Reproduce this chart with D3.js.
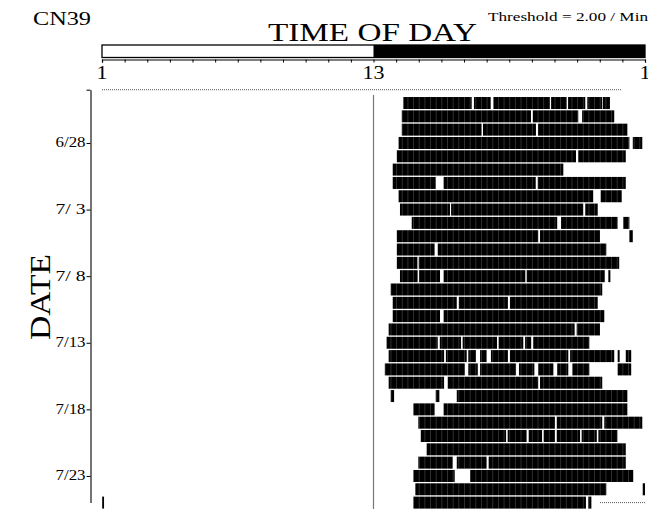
<!DOCTYPE html>
<html>
<head>
<meta charset="utf-8">
<script src="https://cdn.jsdelivr.net/npm/d3@7/dist/d3.min.js"></script>
<style>
  html, body { margin: 0; padding: 0; background: #fff; }
  svg { display: block; }
  text { font-family: "Liberation Serif", "DejaVu Serif", serif; fill: #000; }
</style>
</head>
<body>
<svg id="chart" width="648" height="509"></svg>
<script>
// Recording days, one row each
const days = ["6/24","6/25","6/26","6/27","6/28","6/29","6/30","7/1","7/2","7/3","7/4",
  "7/5","7/6","7/7","7/8","7/9","7/10","7/11","7/12","7/13","7/14","7/15","7/16",
  "7/17","7/18","7/19","7/20","7/21","7/22","7/23","7/24","7/25"];

// Labelled days on the DATE axis and their printed text
const dateTicks = ["6/28","7/3","7/8","7/13","7/18","7/23"];
const dateTickText = ["6/28","7/ 3","7/ 8","7/13","7/18","7/23"];

// Clock hours on the TIME OF DAY axis (1 .. 25 = 1 o'clock next day)
const hourTicks = [1,2,3,4,5,6,7,8,9,10,11,12,13,14,15,16,17,18,19,20,21,22,23,24,25];
const hourLabels = [[1,"1"],[13,"13"],[25,"1"]];

// Light / dark schedule
const lightPhase = [1, 13];
const darkPhase = [13, 25];

// Activity above threshold, per day: [start hour, end hour]
const activity = [
  [],
  [[14.32,17.34],[17.44,18.18],[18.30,20.80],[20.85,21.54],[21.60,22.36],[22.45,23.11],[23.14,23.45]],
  [[14.25,19.96],[20.04,22.05],[22.22,23.64]],
  [[14.25,17.78],[17.84,20.18],[20.27,24.22]],
  [[14.11,24.31],[24.46,24.88]],
  [[14.03,21.95],[22.05,24.15]],
  [[13.85,21.39]],
  [[13.85,15.75],[16.10,20.17],[20.26,24.15]],
  [[14.11,22.71],[23.04,23.97]],
  [[14.17,16.38],[16.43,22.27],[22.36,22.91]],
  [[14.69,21.12],[21.29,23.79],[24.04,24.31]],
  [[14.03,20.28],[20.36,23.01],[24.31,24.46]],
  [[14.03,15.70],[15.84,23.29]],
  [[14.03,14.94],[15.00,23.86]],
  [[14.17,14.95],[15.01,15.94],[16.10,19.71],[19.77,23.22],[23.38,23.47]],
  [[13.76,23.11]],
  [[13.85,16.68],[16.77,18.94],[19.03,22.91]],
  [[13.85,15.94],[16.10,23.20]],
  [[13.67,21.89],[21.98,23.01]],
  [[13.58,15.84],[15.93,16.87],[16.94,18.46],[18.53,19.62],[19.70,19.97],[20.06,22.54]],
  [[13.67,16.12],[16.20,17.12],[17.19,17.53],[17.71,18.00],[18.19,18.94],[19.03,21.61],[21.69,23.64],[23.79,23.88],[24.15,24.39]],
  [[13.50,17.04],[17.19,17.61],[17.71,19.30],[19.43,20.11],[20.28,20.95],[21.12,21.61],[21.79,22.54],[23.79,24.39]],
  [[13.67,16.12],[16.28,20.28],[20.36,23.11]],
  [[13.76,13.91],[15.75,15.91],[16.68,24.22]],
  [[14.76,15.70],[16.10,24.22]],
  [[14.98,21.02],[21.10,23.11],[23.20,24.88]],
  [[15.09,18.86],[18.93,19.77],[19.86,20.45],[20.52,21.02],[21.10,22.13],[22.20,22.87],[22.94,23.78]],
  [[15.35,24.15]],
  [[14.98,16.50],[16.68,18.00],[18.09,24.15]],
  [[14.76,16.59],[17.27,24.48]],
  [[14.85,23.29],[24.90,25.00]],
  [[1.00,1.09],[14.76,22.39],[22.49,22.63]]
];

// Stretches with no recording (dotted)
const noData = [
  { day: "6/24", from: 1, to: 23.97 },
  { day: "7/25", from: 23.01, to: 25 }
];

const svg = d3.select("#chart");

const x = d3.scaleLinear().domain([1, 25]).range([102, 645]);
const y = d3.scalePoint().domain(days).range([89.7, 502.6]);
const barH = 12;

// bin texture for the activity bars (15-minute bins)
const binW = x(1.25) - x(1);
const defs = svg.append("defs");
const pat = defs.append("pattern")
  .attr("id", "bins")
  .attr("patternUnits", "userSpaceOnUse")
  .attr("x", x(1)).attr("y", 0)
  .attr("width", binW).attr("height", 20);
pat.append("rect").attr("width", binW).attr("height", 20).attr("fill", "#000");
pat.append("rect").attr("x", 0).attr("width", 0.8).attr("height", 20).attr("fill", "#3a3a3a");

// Titles
svg.append("text").attr("x", 33).attr("y", 25)
  .attr("font-size", 18).attr("textLength", 58).attr("lengthAdjust", "spacingAndGlyphs")
  .text("CN39");
svg.append("text").attr("x", 268).attr("y", 41)
  .attr("font-size", 26).attr("textLength", 209).attr("lengthAdjust", "spacingAndGlyphs")
  .text("TIME OF DAY");
svg.append("text").attr("x", 488).attr("y", 21)
  .attr("font-size", 13).attr("textLength", 160).attr("lengthAdjust", "spacingAndGlyphs")
  .text("Threshold = 2.00 / Min");
svg.append("text")
  .attr("transform", "translate(50,340) rotate(-90)")
  .attr("font-size", 29).attr("textLength", 86).attr("lengthAdjust", "spacingAndGlyphs")
  .text("DATE");

// Light/dark bar
svg.append("rect")
  .attr("x", x(lightPhase[0])).attr("y", 45)
  .attr("width", x(lightPhase[1]) - x(lightPhase[0])).attr("height", 12.5)
  .attr("fill", "#fff");
svg.append("rect")
  .attr("x", x(darkPhase[0])).attr("y", 45)
  .attr("width", x(darkPhase[1]) - x(darkPhase[0])).attr("height", 12.5)
  .attr("fill", "#000");
svg.append("rect")
  .attr("x", x(1)).attr("y", 45)
  .attr("width", x(25) - x(1)).attr("height", 12.5)
  .attr("fill", "none").attr("stroke", "#000").attr("stroke-width", 1.3);

// Hour axis
const xAxis = d3.axisBottom(x)
  .tickValues(hourTicks)
  .tickSize(3)
  .tickSizeOuter(3)
  .tickFormat("");
const gx = svg.append("g").attr("transform", "translate(0,59.5)").call(xAxis);
gx.select(".domain").attr("stroke", "#000").attr("stroke-width", 1.2);
gx.selectAll(".tick line").attr("stroke", "#000");

svg.append("g").selectAll("text.hl")
  .data(hourLabels).join("text")
  .attr("class", "hl")
  .attr("x", d => x(d[0]))
  .attr("y", 79)
  .attr("text-anchor", "middle")
  .attr("font-size", 18)
  .attr("textLength", d => d[1].length * 11)
  .attr("lengthAdjust", "spacingAndGlyphs")
  .text(d => d[1]);

// Lights-off reference line
svg.append("line")
  .attr("x1", x(13)).attr("x2", x(13))
  .attr("y1", 95).attr("y2", 509)
  .attr("stroke", "#777").attr("stroke-width", 1.2);

// Date axis
const yAxis = d3.axisLeft(y)
  .tickValues([days[0]].concat(dateTicks))
  .tickSize(4)
  .tickSizeOuter(0)
  .tickFormat("");
const gy = svg.append("g").attr("transform", "translate(90.5,0)").call(yAxis);
gy.select(".domain").attr("stroke", "#000").attr("stroke-width", 1.1);
gy.selectAll(".tick line").attr("stroke", "#000");

svg.append("g").selectAll("text.dl")
  .data(dateTicks).join("text")
  .attr("class", "dl")
  .attr("x", 85.5)
  .attr("y", d => y(d) + 4.5)
  .attr("text-anchor", "end")
  .attr("font-size", 14)
  .attr("textLength", 30)
  .attr("lengthAdjust", "spacingAndGlyphs")
  .text((d, i) => dateTickText[i]);

// Missing-data stretches
svg.append("g").selectAll("line.nd")
  .data(noData).join("line")
  .attr("class", "nd")
  .attr("x1", d => x(d.from)).attr("x2", d => x(d.to))
  .attr("y1", d => y(d.day)).attr("y2", d => y(d.day))
  .attr("stroke", "#555").attr("stroke-width", 1)
  .attr("stroke-dasharray", "1,1");

// Activity bars
const segs = [];
activity.forEach((list, i) => list.forEach(s => segs.push({ day: days[i], s: s[0], e: s[1] })));
svg.append("g").selectAll("rect.act")
  .data(segs).join("rect")
  .attr("class", "act")
  .attr("x", d => x(d.s))
  .attr("y", d => y(d.day) - barH / 2)
  .attr("width", d => Math.max(1, x(d.e) - x(d.s)))
  .attr("height", barH)
  .attr("fill", "url(#bins)");
</script>
</body>
</html>
